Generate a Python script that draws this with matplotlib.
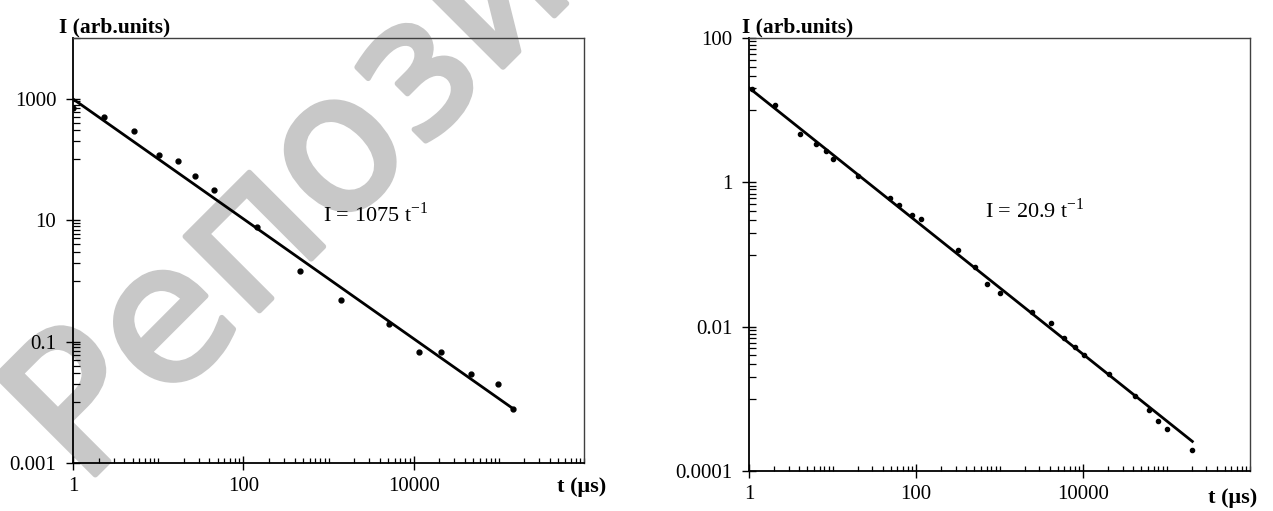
import numpy as np
import matplotlib
matplotlib.use("Agg")
import matplotlib.pyplot as plt
import matplotlib.patheffects as pe
from matplotlib.ticker import LogLocator, FuncFormatter, NullFormatter

plt.rcParams["font.family"] = ["Liberation Serif", "DejaVu Serif"]

# left panel: measured points and power-law fit
t_left = [1, 2.32, 5.17, 10.2, 17, 27, 45, 143, 460, 1400, 5100, 11700, 20700, 46500, 98000, 148000]
I_left = [690, 505, 294, 118, 94, 54, 31.3, 7.8, 1.47, 0.48, 0.195, 0.068, 0.068, 0.029, 0.020, 0.0077]
fit_t_left = [1, 148000]
fit_I_left = [990, 0.0078]

# right panel
t_right = [1.08, 2.04, 4.05, 6.3, 8.3, 10.2, 20, 49, 62, 89, 114, 316, 503, 710, 1000,
           2430, 4170, 5920, 7930, 10200, 20300, 41400, 62000, 80000, 100000, 204000]
I_right = [19.5, 11.8, 4.68, 3.37, 2.75, 2.09, 1.23, 0.60, 0.48, 0.355, 0.31, 0.116, 0.067,
           0.039, 0.029, 0.0162, 0.0112, 0.0069, 0.0052, 0.0041, 0.0022, 0.00111, 0.00071,
           0.00049, 0.00038, 0.000195]
fit_t_right = [1, 204000]
fit_I_right = [20.4, 0.000257]

x_ticks = [1, 100, 10000]
y_ticks_left = [0.001, 0.1, 10, 1000]
y_ticks_right = [0.0001, 0.01, 1, 100]

W, H = 1273, 511
fig = plt.figure(figsize=(W / 100, H / 100), dpi=100)

ax1 = fig.add_axes([73 / W, 1 - 463 / H, (584 - 73) / W, (463 - 38) / H])
ax2 = fig.add_axes([749 / W, 1 - 471 / H, (1250 - 749) / W, (471 - 38) / H])


def fmt(v, pos):
    return f"{v:g}"


def style(ax, yticks, ysubs):
    ax.set_xscale("log")
    ax.set_yscale("log")
    ax.patch.set_alpha(0)
    ax.set_xticks(x_ticks)
    ax.set_yticks(yticks)
    ax.xaxis.set_major_formatter(FuncFormatter(fmt))
    ax.yaxis.set_major_formatter(FuncFormatter(fmt))
    ax.xaxis.set_minor_locator(LogLocator(base=10, subs=np.arange(1, 10), numticks=100))
    ax.yaxis.set_minor_locator(LogLocator(base=100, subs=ysubs, numticks=100))
    ax.xaxis.set_minor_formatter(NullFormatter())
    ax.yaxis.set_minor_formatter(NullFormatter())
    ax.tick_params(which="major", direction="inout", length=10, width=1.0,
                   labelsize=15, colors="black")
    ax.tick_params(axis="y", which="major", pad=7)
    ax.tick_params(axis="x", which="major", pad=5)
    ax.tick_params(axis="y", which="minor", direction="in", length=5, width=0.9)
    ax.tick_params(axis="x", which="minor", direction="in", length=3.5, width=0.9)
    for s in ("left", "bottom"):
        ax.spines[s].set_linewidth(1.3)
        ax.spines[s].set_color("black")
    for s in ("top", "right"):
        ax.spines[s].set_linewidth(1.0)
        ax.spines[s].set_color("#404040")


ax1.plot(fit_t_left, fit_I_left, color="black", lw=2.0)
ax1.plot(t_left, I_left, "o", color="black", ms=3.5)
style(ax1, y_ticks_left, np.arange(1, 10))
ax1.set_xlim(1, 1e6)
ax1.set_ylim(0.001, 10000)

ax2.plot(fit_t_right, fit_I_right, color="black", lw=2.0)
ax2.plot(t_right, I_right, "o", color="black", ms=3.0)
style(ax2, y_ticks_right, np.arange(10, 100, 10))
ax2.set_xlim(1, 1e6)
ax2.set_ylim(0.0001, 100)

# axis titles
fig.text(59 / W, 1 - 32 / H, "I (arb.units)", fontsize=15.5, fontweight="bold", va="baseline")
fig.text(742 / W, 1 - 32 / H, "I (arb.units)", fontsize=15.5, fontweight="bold", va="baseline")
fig.text(557 / W, 1 - 492 / H, "t (\u03bcs)", fontsize=16, fontweight="bold", va="baseline")
fig.text(1208 / W, 1 - 503 / H, "t (\u03bcs)", fontsize=16, fontweight="bold", va="baseline")

# fit equations
fig.text(323 / W, 1 - 222 / H, r"I = 1075 t$^{\mathregular{-1}}$", fontsize=16, va="baseline")
fig.text(985 / W, 1 - 218 / H, r"I = 20.9 t$^{\mathregular{-1}}$", fontsize=16, va="baseline")

# watermark
fig.text(82 / W, 1 - 488 / H, "Репозиторий", fontsize=138, color="#c8c8c8",
         family="DejaVu Sans", rotation=45, rotation_mode="anchor",
         ha="left", va="baseline", zorder=-1,
         path_effects=[pe.withStroke(linewidth=4, foreground="#c8c8c8")])

fig.savefig("out.png", dpi=100)
